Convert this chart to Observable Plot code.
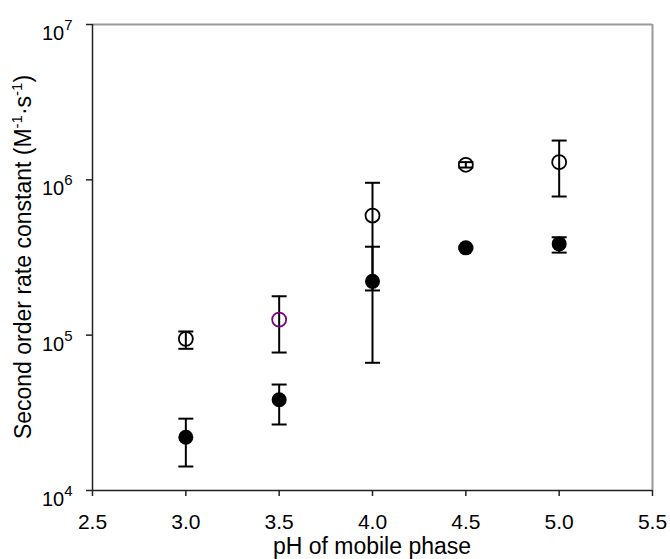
<!DOCTYPE html>
<html>
<head>
<meta charset="utf-8">
<script src="https://cdn.jsdelivr.net/npm/d3@7"></script>
<script src="https://cdn.jsdelivr.net/npm/@observablehq/plot@0.6"></script>
<style>
  html, body { margin: 0; padding: 0; background: white; }
  #chart svg { display: block; }
</style>
</head>
<body>
<div id="chart"></div>
<script>
// pH values
const ph = [3.0, 3.5, 4.0, 4.5, 5.0];
// open circles series
const openK  = [9.47e4, 1.26e5, 5.89e5, 1.25e6, 1.30e6];
const openLo = [8.17e4, 7.73e4, 1.94e5, 1.20e6, 7.81e5];
const openHi = [1.056e5, 1.78e5, 9.57e5, 1.30e6, 1.79e6];
const openColor = ["black", "#800080", "black", "black", "black"];
// filled circles series
const filledK  = [2.20e4, 3.84e4, 2.22e5, 3.65e5, 3.87e5];
const filledLo = [1.427e4, 2.66e4, 6.64e4, 3.58e5, 3.40e5];
const filledHi = [2.90e4, 4.81e4, 3.71e5, 3.72e5, 4.27e5];
// ticks
const xTicks = [2.5, 3.0, 3.5, 4.0, 4.5, 5.0, 5.5];
const yTicks = [1e4, 1e5, 1e6, 1e7];
const xTitle = "pH of mobile phase";

const openData = ph.map((x, i) => ({x, k: openK[i], lo: openLo[i], hi: openHi[i], c: openColor[i]}));
const filledData = ph.map((x, i) => ({x, k: filledK[i], lo: filledLo[i], hi: filledHi[i]}));
const allData = openData.concat(filledData);

const capSymbol = {
  draw(ctx, size) {
    const w = Math.sqrt(size / Math.PI);
    ctx.moveTo(-w, 0);
    ctx.lineTo(w, 0);
  }
};

const font = "'Liberation Sans', Arial, sans-serif";

const chart = Plot.plot({
  width: 670,
  height: 559,
  marginLeft: 92,
  marginRight: 18,
  marginTop: 24,
  marginBottom: 69,
  style: {fontFamily: font, background: "white", color: "black", overflow: "visible"},
  x: {domain: [2.5, 5.5]},
  y: {type: "log", domain: [1e4, 1e7]},
  color: {type: "identity"},
  marks: [
    Plot.ruleY([1e7], {stroke: "#999", strokeWidth: 2}),
    Plot.ruleX([5.5], {stroke: "#999", strokeWidth: 2}),
    Plot.ruleX([2.5], {stroke: "#222", strokeWidth: 1.5}),
    Plot.ruleY([1e4], {stroke: "#222", strokeWidth: 1.5}),
    Plot.axisX({ticks: xTicks, tickFormat: d => d.toFixed(1), tickSize: 6, tickPadding: 18,
                fontSize: 21, label: null, stroke: "#222", strokeWidth: 1.5}),
    Plot.axisY({ticks: yTicks, tickFormat: () => "10", tickSize: 6, tickPadding: 14,
                fontSize: 20, label: null, stroke: "#222", strokeWidth: 1.5}),
    Plot.ruleX(allData, {x: "x", y1: "lo", y2: "hi", stroke: "black", strokeWidth: 2}),
    Plot.dot(allData, {x: "x", y: "lo", symbol: capSymbol, r: 7.5, fill: "none", stroke: "black", strokeWidth: 2}),
    Plot.dot(allData, {x: "x", y: "hi", symbol: capSymbol, r: 7.5, fill: "none", stroke: "black", strokeWidth: 2}),
    Plot.dot(filledData, {x: "x", y: "k", r: 7.5, fill: "black", stroke: "none"}),
    Plot.dot(openData, {x: "x", y: "k", r: 7, fill: "none", stroke: "c", strokeWidth: 1.8})
  ]
});

const svg = d3.select(chart);
// enforce tick label sizes
svg.selectAll("g[aria-label='x-axis tick label']").attr("font-size", 21).style("font-size", "21px");
svg.selectAll("g[aria-label='x-axis tick label'] text").style("font-size", "21px");
svg.selectAll("g[aria-label='y-axis tick label']").attr("font-size", 20).style("font-size", "20px");
svg.selectAll("g[aria-label='y-axis tick label'] text").style("font-size", "20px").attr("dy", "0.45em");
// superscript exponents on y tick labels
svg.selectAll("g[aria-label='y-axis tick label'] text").each(function(_, i) {
  const exp = Math.round(Math.log10(yTicks[i]));
  d3.select(this).append("tspan").attr("dy", "-10px").style("font-size", "15px").text(exp);
});

// y-axis title
const yt = svg.append("text")
  .attr("transform", "translate(31,257) rotate(-90)")
  .attr("text-anchor", "middle")
  .attr("font-family", font)
  .style("font-size", "23px")
  .attr("fill", "black");
yt.append("tspan").text("Second order rate constant (M");
yt.append("tspan").attr("dy", "-9px").style("font-size", "15px").text("-1");
yt.append("tspan").attr("dy", "9px").text("·s");
yt.append("tspan").attr("dy", "-9px").style("font-size", "15px").text("-1");
yt.append("tspan").attr("dy", "9px").text(")");

// x-axis title
svg.append("text")
  .attr("x", 372).attr("y", 554)
  .attr("text-anchor", "middle")
  .attr("font-family", font)
  .style("font-size", "23px")
  .attr("fill", "black")
  .text(xTitle);

document.getElementById("chart").appendChild(chart);
</script>
</body>
</html>
